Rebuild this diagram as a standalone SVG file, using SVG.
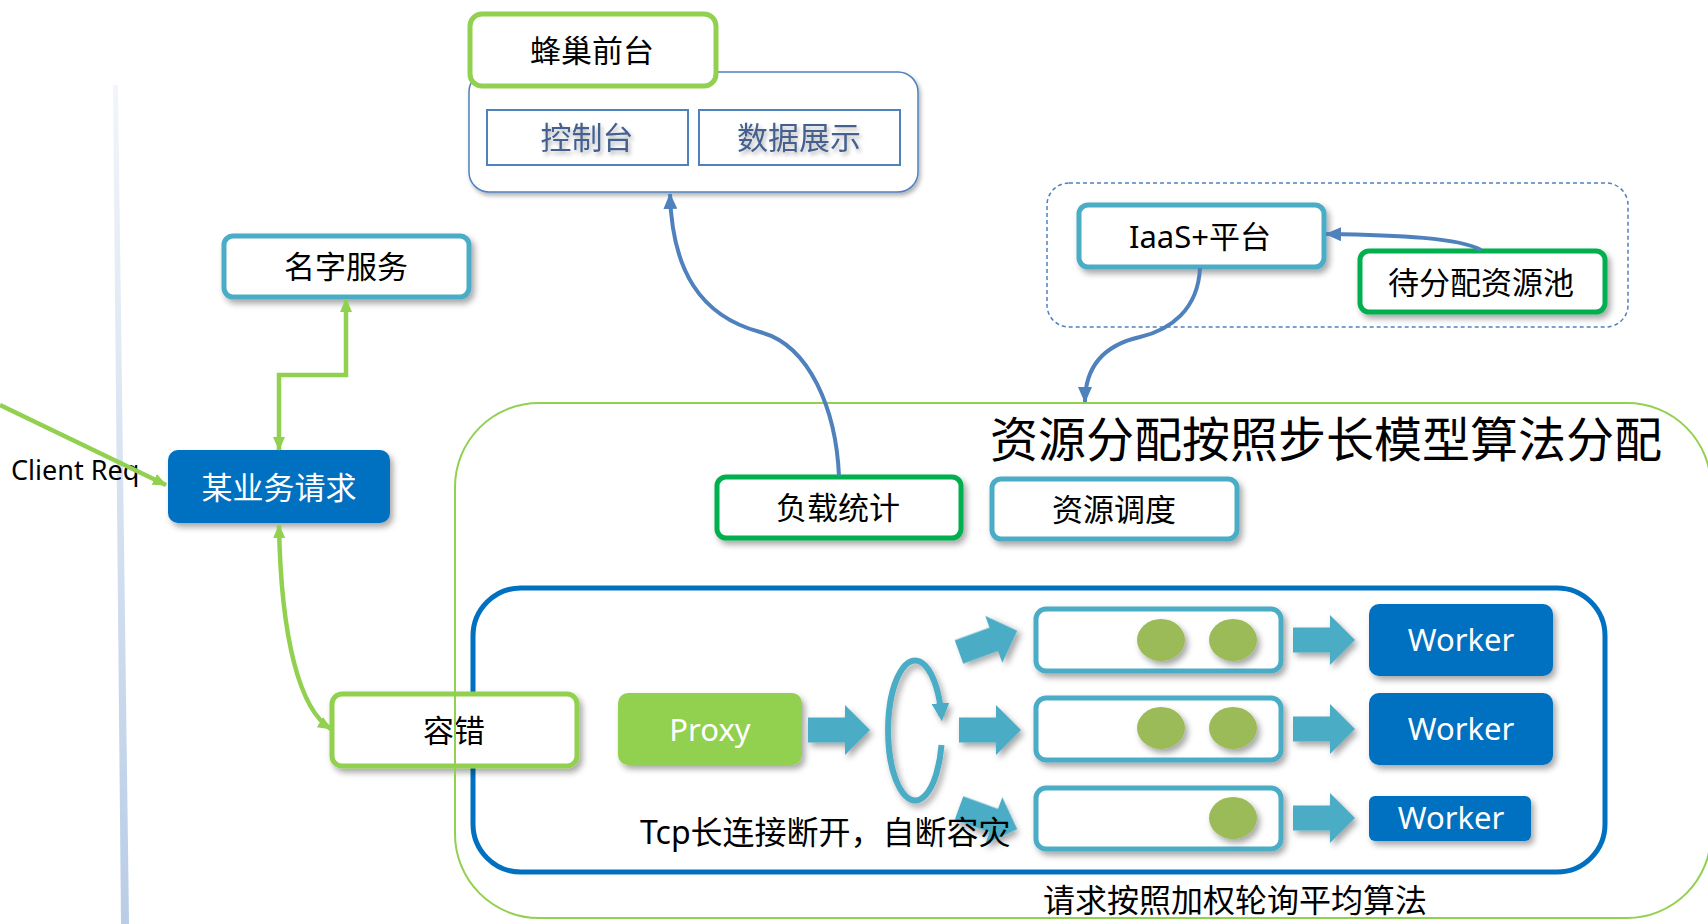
<svg xmlns="http://www.w3.org/2000/svg" width="1708" height="924" viewBox="0 0 1708 924">
<defs>
<style>
text{font-family:"Noto Sans","Noto Sans CJK SC",sans-serif;}
.lbl{font-size:31px;fill:#000;text-anchor:middle;dominant-baseline:central;}
.wl{fill:#fff;}
.box{fill:#fff;stroke-width:5;}
.cyan{stroke:#4bacc6;}
.grn{stroke:#92d050;}
.dgrn{stroke:#00b050;}
.solid{fill:#0070c0;}
.cg{fill:none;stroke:#92d050;stroke-width:4.5;}
.cb{fill:none;stroke:#4f81bd;stroke-width:4;}
.blk{fill:#4bacc6;}
.dot{fill:#9bbb59;}
.sub{fill:#fff;stroke:#4f81bd;stroke-width:2;}
.subt{font-size:31px;fill:#44618f;text-anchor:middle;dominant-baseline:central;}
</style>
<filter id="sh" x="-20%" y="-20%" width="150%" height="170%">
<feDropShadow dx="3" dy="4" stdDeviation="3" flood-color="#000" flood-opacity="0.35"/>
</filter>
<filter id="tsh" x="-10%" y="-20%" width="130%" height="160%">
<feDropShadow dx="2" dy="3" stdDeviation="2" flood-color="#000" flood-opacity="0.3"/>
</filter>
<linearGradient id="divg" x1="0" y1="0" x2="0" y2="1">
<stop offset="0" stop-color="#f2f5fa"/>
<stop offset="1" stop-color="#b9cde6"/>
</linearGradient>
<marker id="ag" viewBox="0 0 14 12" refX="13" refY="6" markerWidth="14" markerHeight="12" markerUnits="userSpaceOnUse" orient="auto-start-reverse">
<path d="M0,0 L14,6 L0,12 Z" fill="#92d050"/>
</marker>
<marker id="ab" viewBox="0 0 16 14" refX="15" refY="7" markerWidth="16" markerHeight="14" markerUnits="userSpaceOnUse" orient="auto-start-reverse">
<path d="M0,0 L16,7 L0,14 Z" fill="#4f81bd"/>
</marker>
<marker id="ac" viewBox="0 0 14 14" refX="10" refY="7" markerWidth="18" markerHeight="18" markerUnits="userSpaceOnUse" orient="auto">
<path d="M0,0 L14,7 L0,14 Z" fill="#4bacc6"/>
</marker>
<path id="barrow" d="M0,-12.5 H37 V-25 L62,0 L37,25 V12.5 H0 Z"/>
</defs>

<rect width="1708" height="924" fill="#fff"/>

<g id="divider">
<polygon points="113,85 118,85 129,924 121,924" fill="url(#divg)"/>
</g>

<g id="frontend">
<rect x="469" y="72" width="449" height="120" rx="20" fill="#fff" stroke="#4f81bd" stroke-width="1.5" filter="url(#tsh)"/>
<g id="console">
<rect class="sub" x="487" y="110" width="201" height="55"/>
<text class="subt" x="587" y="137" filter="url(#tsh)">控制台</text>
</g>
<g id="dataview">
<rect class="sub" x="699" y="110" width="201" height="55"/>
<text class="subt" x="799" y="137" filter="url(#tsh)">数据展示</text>
</g>
<g id="hive-front">
<rect class="box grn" x="470" y="14" width="246" height="72" rx="12"/>
<text class="lbl" x="592" y="50">蜂巢前台</text>
</g>
</g>

<g id="iaas-group">
<rect x="1047" y="183" width="581" height="144" rx="22" fill="none" stroke="#4f81bd" stroke-width="1.5" stroke-dasharray="4,3"/>
</g>

<g id="inner-container">
<rect x="473" y="588" width="1132" height="284" rx="48" fill="#fff" stroke="#0070c0" stroke-width="5"/>
</g>

<g id="fault">
<rect class="box grn" x="332" y="694" width="245" height="72" rx="10" filter="url(#sh)"/>
<text class="lbl" x="454" y="730">容错</text>
</g>

<g id="outer-container">
<rect x="455" y="403" width="1256" height="515" rx="84" fill="none" stroke="#92d050" stroke-width="2"/>
<text x="990" y="438" font-size="48" dominant-baseline="central" fill="#000">资源分配按照步长模型算法分配</text>
<text x="1043" y="899" font-size="32" dominant-baseline="central" fill="#000">请求按照加权轮询平均算法</text>
</g>

<g id="name-service">
<rect class="box cyan" x="224" y="236" width="245" height="61" rx="9" filter="url(#sh)"/>
<text class="lbl" x="346" y="266">名字服务</text>
</g>

<g id="client-label">
<text x="11" y="480" font-size="27" fill="#000">Client Req</text>
</g>

<g id="biz-request">
<rect class="solid" x="168" y="450" width="222" height="73" rx="10" filter="url(#sh)"/>
<text class="lbl wl" x="279" y="487" font-size="32">某业务请求</text>
</g>

<g id="load-stats">
<rect class="box dgrn" x="717" y="477" width="244" height="61" rx="9" filter="url(#sh)"/>
<text class="lbl" x="838" y="507">负载统计</text>
</g>

<g id="res-sched">
<rect class="box cyan" x="992" y="479" width="245" height="60" rx="9" filter="url(#sh)"/>
<text class="lbl" x="1114" y="509">资源调度</text>
</g>

<g id="iaas">
<rect class="box cyan" x="1079" y="205" width="245" height="62" rx="9" filter="url(#sh)"/>
<text class="lbl" x="1200" y="236" font-size="30">IaaS+平台</text>
</g>

<g id="pool">
<rect class="box dgrn" x="1360" y="251" width="245" height="61" rx="9" filter="url(#sh)"/>
<text class="lbl" x="1481" y="282">待分配资源池</text>
</g>

<g id="proxy">
<rect x="618" y="693" width="184" height="72" rx="10" fill="#92d050" filter="url(#sh)"/>
<text class="lbl wl" x="710" y="729">Proxy</text>
</g>

<g id="round-robin">
<use href="#barrow" class="blk" transform="translate(808,730)" filter="url(#sh)"/>
<path d="M941.5,745 A27,70 0 1 1 941.5,716" fill="none" stroke="#4bacc6" stroke-width="6" marker-end="url(#ac)" filter="url(#sh)"/>
<use href="#barrow" class="blk" transform="translate(959,652) rotate(-20)" filter="url(#sh)"/>
<use href="#barrow" class="blk" transform="translate(959,730)" filter="url(#sh)"/>
<use href="#barrow" class="blk" transform="translate(959,808) rotate(20)" filter="url(#sh)"/>
<text x="640" y="831" font-size="32" dominant-baseline="central" fill="#000">Tcp长连接断开，自断容灾</text>
</g>

<g id="queue1">
<rect class="box cyan" x="1036" y="609" width="245" height="62" rx="10" filter="url(#sh)"/>
<ellipse class="dot" cx="1161" cy="640" rx="24" ry="21" filter="url(#sh)"/>
<ellipse class="dot" cx="1233" cy="640" rx="24" ry="21" filter="url(#sh)"/>
</g>
<g id="queue2">
<rect class="box cyan" x="1036" y="698" width="245" height="62" rx="10" filter="url(#sh)"/>
<ellipse class="dot" cx="1161" cy="728" rx="24" ry="21" filter="url(#sh)"/>
<ellipse class="dot" cx="1233" cy="728" rx="24" ry="21" filter="url(#sh)"/>
</g>
<g id="queue3">
<rect class="box cyan" x="1036" y="788" width="245" height="61" rx="10" filter="url(#sh)"/>
<ellipse class="dot" cx="1233" cy="818" rx="24" ry="21" filter="url(#sh)"/>
</g>

<g id="queue-arrows">
<use href="#barrow" class="blk" transform="translate(1293,640)" filter="url(#sh)"/>
<use href="#barrow" class="blk" transform="translate(1293,729)" filter="url(#sh)"/>
<use href="#barrow" class="blk" transform="translate(1293,818)" filter="url(#sh)"/>
</g>

<g id="worker1">
<rect class="solid" x="1369" y="604" width="184" height="72" rx="10" filter="url(#sh)"/>
<text class="lbl wl" x="1461" y="639" font-size="32">Worker</text>
</g>
<g id="worker2">
<rect class="solid" x="1369" y="693" width="184" height="72" rx="10" filter="url(#sh)"/>
<text class="lbl wl" x="1461" y="728" font-size="32">Worker</text>
</g>
<g id="worker3">
<rect class="solid" x="1369" y="796" width="162" height="45" rx="6" filter="url(#sh)"/>
<text class="lbl wl" x="1451" y="817" font-size="32">Worker</text>
</g>

<g id="connectors">
<path class="cg" d="M0,405 L166,485" marker-end="url(#ag)"/>
<path class="cg" d="M279,450 V375 H346 V299" marker-start="url(#ag)" marker-end="url(#ag)"/>
<path class="cg" d="M279,525 C281,640 300,710 331,729" marker-start="url(#ag)" marker-end="url(#ag)"/>
<path class="cb" d="M839,476 C836,410 810,345 760,332 C700,316 672,270 670,194" marker-end="url(#ab)"/>
<path class="cb" d="M1200,268 C1198,310 1170,330 1140,337 C1100,346 1085,370 1085,402" marker-end="url(#ab)"/>
<path class="cb" d="M1481,250 C1460,238 1400,235 1326,234" marker-end="url(#ab)"/>
</g>
</svg>
